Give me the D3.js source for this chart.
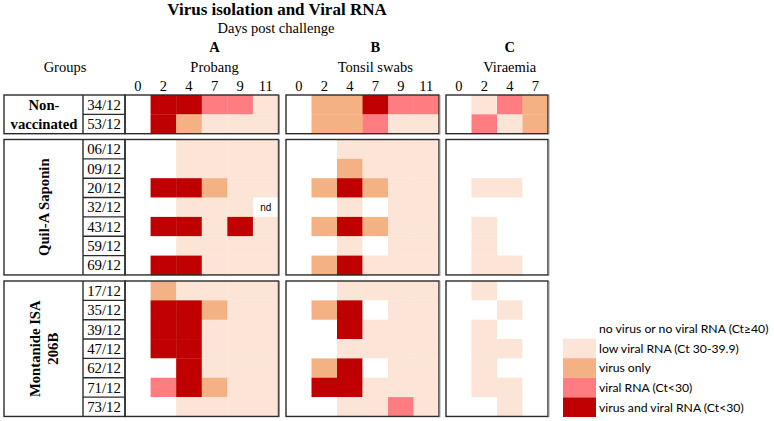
<!DOCTYPE html>
<html>
<head>
<meta charset="utf-8">
<script src="https://cdn.jsdelivr.net/npm/d3@7/dist/d3.min.js"></script>
<style>
  body { margin: 0; background: #fff; }
  svg { display: block; }
</style>
</head>
<body>
<svg id="chart" width="774" height="421"></svg>
<script>
// ---------- DATA ----------
const groups = ["Non-vaccinated", "Quil-A Saponin", "Montanide ISA 206B"];
const animals = [
  ["34/12", "53/12"],
  ["06/12", "09/12", "20/12", "32/12", "43/12", "59/12", "69/12"],
  ["17/12", "35/12", "39/12", "47/12", "62/12", "71/12", "73/12"]
];
const panelLetters = ["A", "B", "C"];
const panelNames = ["Probang", "Tonsil swabs", "Viraemia"];
const daysA = [0, 2, 4, 7, 9, 11];
const daysB = [0, 2, 4, 7, 9, 11];
const daysC = [0, 2, 4, 7];
// codes: 0 none, 1 low viral RNA, 2 virus only, 3 viral RNA (Ct<30), 4 virus and viral RNA, -1 nd
const probang = [
  [0,4,4,3,3,1], [0,4,2,1,1,1],
  [0,0,1,1,1,1], [0,0,1,1,1,1], [0,4,4,2,1,1], [0,0,1,1,1,-1], [0,4,4,1,4,1], [0,0,1,1,1,1], [0,4,4,1,1,1],
  [0,2,1,1,1,1], [0,4,4,2,1,1], [0,4,4,1,1,1], [0,4,4,1,1,1], [0,0,4,1,1,1], [0,3,4,2,1,1], [0,0,1,1,1,1]
];
const tonsil = [
  [0,2,2,4,3,3], [0,2,2,3,1,1],
  [0,0,1,1,1,1], [0,0,2,1,1,1], [0,2,4,2,1,1], [0,0,1,0,1,1], [0,2,4,2,1,1], [0,0,1,0,1,1], [0,2,4,1,1,1],
  [0,0,1,1,1,1], [0,2,4,0,1,1], [0,0,4,1,1,1], [0,0,1,1,1,1], [0,2,4,0,1,1], [0,4,4,1,1,1], [0,0,1,1,3,1]
];
const viraemia = [
  [0,1,3,2], [0,3,1,2],
  [0,0,0,0], [0,0,0,0], [0,1,1,0], [0,0,0,0], [0,1,0,0], [0,1,0,0], [0,1,1,0],
  [0,1,0,0], [0,0,1,0], [0,1,0,0], [0,1,1,0], [0,1,0,0], [0,1,1,0], [0,0,1,0]
];
const legendLabels = [
  "no virus or no viral RNA (Ct\u226540)",
  "low viral RNA (Ct 30-39.9)",
  "virus only",
  "viral RNA (Ct<30)",
  "virus and viral RNA (Ct<30)"
];
const legendCodes = [0, 1, 2, 3, 4];

// ---------- STYLE / LAYOUT ----------
const colorOf = d3.scaleOrdinal()
  .domain([-1, 0, 1, 2, 3, 4])
  .range(["#ffffff", "#ffffff", "#FCE4D6", "#F4B183", "#FF7C80", "#C00000"]);

const serif = "'Liberation Serif', 'Times New Roman', serif";
const sans = "Lato, 'Liberation Sans', sans-serif";
const svg = d3.select("#chart");

const groupTops = [95, 139.5, 281];
const rowH = 19.35;
const yScales = animals.map((a, i) =>
  d3.scaleBand().domain(a).range([groupTops[i], groupTops[i] + a.length * rowH]).padding(0));

const panels = [
  { days: daysA, data: probang, x: d3.scaleBand().domain(daysA).range([125, 278.5]) },
  { days: daysB, data: tonsil,  x: d3.scaleBand().domain(daysB).range([286, 439]) },
  { days: daysC, data: viraemia, x: d3.scaleBand().domain(daysC).range([446, 548]) }
];

// ---------- HEADERS ----------
svg.append("text").attr("x", 277).attr("y", 15).attr("text-anchor", "middle")
  .style("font-family", serif).style("font-weight", "bold").style("font-size", "17px")
  .text("Virus isolation and Viral RNA");
svg.append("text").attr("x", 276).attr("y", 33).attr("text-anchor", "middle")
  .style("font-family", serif).style("font-size", "14.5px")
  .text("Days post challenge");
svg.append("text").attr("x", 65).attr("y", 72).attr("text-anchor", "middle")
  .style("font-family", serif).style("font-size", "14.5px").text("Groups");

const labelDay = [7, 7, 4];
panels.forEach((p, i) => {
  const cx = p.x(labelDay[i]) + p.x.bandwidth() / 2;
  svg.append("text").attr("x", cx).attr("y", 52).attr("text-anchor", "middle")
    .style("font-family", serif).style("font-weight", "bold").style("font-size", "14.5px")
    .text(panelLetters[i]);
  svg.append("text").attr("x", cx).attr("y", 72).attr("text-anchor", "middle")
    .style("font-family", serif).style("font-size", "14.5px")
    .text(panelNames[i]);
  const ax = svg.append("g").attr("transform", "translate(0,95)")
    .call(d3.axisTop(p.x).tickSize(0).tickPadding(4));
  ax.select(".domain").remove();
  ax.selectAll("text").style("font-family", serif).style("font-size", "14.5px").attr("fill", "#000");
});

// ---------- CELLS ----------
let rowIndex = 0;
animals.forEach((ids, g) => {
  const y = yScales[g];
  ids.forEach(id => {
    const r = rowIndex;
    panels.forEach(p => {
      p.days.forEach((day, c) => {
        const v = p.data[r][c];
        svg.append("rect")
          .attr("x", p.x(day)).attr("y", y(id))
          .attr("width", p.x.bandwidth() + 0.3).attr("height", y.bandwidth() + 0.3)
          .attr("fill", colorOf(v));
        if (v === -1) {
          svg.append("text")
            .attr("x", p.x(day) + p.x.bandwidth() / 2).attr("y", y(id) + y.bandwidth() / 2 + 3.5)
            .attr("text-anchor", "middle")
            .style("font-family", "'Liberation Sans', Arial, sans-serif").style("font-size", "10px")
            .text("nd");
        }
      });
    });
    rowIndex++;
  });
});

// ---------- BORDERS & LABELS ----------
const stroke = "#2b2b2b";
animals.forEach((ids, g) => {
  const y = yScales[g];
  const top = y.range()[0], bot = y.range()[1];
  svg.append("rect").attr("x", 4).attr("y", top).attr("width", 121).attr("height", bot - top)
    .attr("fill", "none").attr("stroke", stroke).attr("stroke-width", 1.4);
  svg.append("line").attr("x1", 83).attr("x2", 83).attr("y1", top).attr("y2", bot)
    .attr("stroke", stroke).attr("stroke-width", 1.4);
  ids.forEach((id, k) => {
    if (k > 0) {
      svg.append("line").attr("x1", 83).attr("x2", 125).attr("y1", y(id)).attr("y2", y(id))
        .attr("stroke", stroke).attr("stroke-width", 1.4);
    }
    svg.append("text").attr("x", 104).attr("y", y(id) + y.bandwidth() / 2 + 5.2)
      .attr("text-anchor", "middle")
      .style("font-family", serif).style("font-size", "14.8px").text(id);
  });
  panels.forEach(p => {
    const [x0, x1] = p.x.range();
    svg.append("rect").attr("x", x0).attr("y", top).attr("width", x1 - x0).attr("height", bot - top)
      .attr("fill", "none").attr("stroke", stroke).attr("stroke-width", 1.4);
    svg.append("line").attr("x1", x1 + 0.8).attr("x2", x1 + 0.8).attr("y1", top).attr("y2", bot + 0.7)
      .attr("stroke", "#8a8a8a").attr("stroke-width", 1.2);
  });
});

// group labels
const gl = (txt, x, y, rot) => {
  const t = svg.append("text").attr("text-anchor", "middle")
    .style("font-family", serif).style("font-weight", "bold").style("font-size", "14.7px").text(txt);
  if (rot) t.attr("transform", `translate(${x},${y}) rotate(-90)`);
  else t.attr("x", x).attr("y", y);
};
{
  const y0 = yScales[0];
  gl("Non-", 44, y0(animals[0][0]) + y0.bandwidth() / 2 + 5, false);
  gl("vaccinated", 44, y0(animals[0][1]) + y0.bandwidth() / 2 + 5, false);
  const r1 = yScales[1].range();
  gl("Quil-A Saponin", 49, (r1[0] + r1[1]) / 2, true);
  const r2 = yScales[2].range();
  gl("Montanide ISA", 39.5, (r2[0] + r2[1]) / 2, true);
  gl("206B", 57.5, (r2[0] + r2[1]) / 2, true);
}

// ---------- LEGEND ----------
const legY = d3.scaleBand().domain(legendCodes).range([319, 417]);
const leg = svg.append("g");
legendCodes.forEach((c, i) => {
  leg.append("rect").attr("x", 563).attr("y", legY(c)).attr("width", 33).attr("height", legY.bandwidth())
    .attr("fill", colorOf(c));
  leg.append("text").attr("x", 599).attr("y", legY(c) + legY.bandwidth() / 2 + 4.4)
    .style("font-family", sans).style("font-size", "12.2px").attr("fill", "#000")
    .text(legendLabels[i]);
});
</script>
</body>
</html>
